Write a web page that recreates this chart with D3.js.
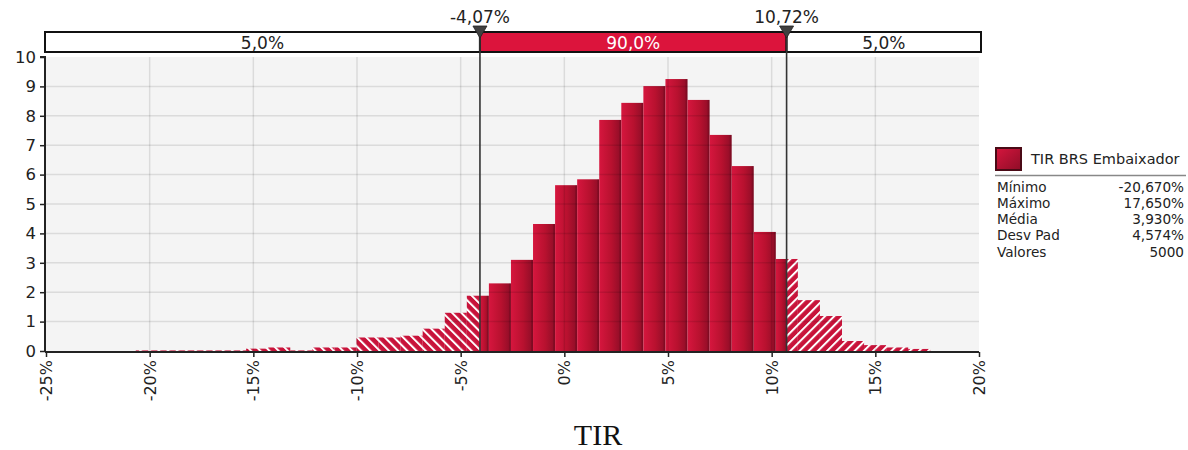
<!DOCTYPE html>
<html><head><meta charset="utf-8">
<script src="https://cdn.jsdelivr.net/npm/d3@7"></script>
<style>body{margin:0;background:#fff}svg{display:block}text{font-family:"DejaVu Sans",Verdana,sans-serif}</style>
</head><body>
<svg id="c" width="1188" height="450"></svg>
<script>
// ---- data ----
const binMin = -20.67, binMax = 17.65, binCount = 36;
const binValues = [0.02,0.02,0.02,0.02,0.02,0.08,0.12,0.02,0.12,0.12,
  0.46,0.46,0.52,0.76,1.30,1.88,2.30,3.10,4.32,5.64,
  5.84,7.86,8.44,9.01,9.25,8.54,7.35,6.29,4.05,3.13,
  1.73,1.19,0.34,0.20,0.12,0.07];
const lowerCut = -4.07, upperCut = 10.72;
const bandLabels = ["5,0%","90,0%","5,0%"];
const cutLabels = ["-4,07%","10,72%"];
const xTicks = [-25,-20,-15,-10,-5,0,5,10,15,20];
const yTicks = [0,1,2,3,4,5,6,7,8,9,10];
const seriesName = "TIR BRS Embaixador";
const statNames = ["Mínimo","Máximo","Média","Desv Pad","Valores"];
const statValues = ["-20,670%","17,650%","3,930%","4,574%","5000"];
const axisTitle = "TIR";

const svg = d3.select("#c");
const L = 46, R = 979, T = 57, B = 351;
const x = d3.scaleLinear().domain([-25,20]).range([L,R]);
const y = d3.scaleLinear().domain([0,10]).range([B,T]);
const bw = (binMax-binMin)/binCount;
const bins = binValues.map((v,i)=>({x0:binMin+i*bw, x1:binMin+(i+1)*bw, v}));

const defs = svg.append("defs");
const g = defs.append("linearGradient").attr("id","bar").attr("x1",0).attr("x2",1).attr("y1",0).attr("y2",0);
g.append("stop").attr("offset","0%").attr("stop-color","#d6163e");
g.append("stop").attr("offset","55%").attr("stop-color","#b8112f");
g.append("stop").attr("offset","100%").attr("stop-color","#8e0d27");
function hatch(id, dir){
  const p = defs.append("pattern").attr("id",id).attr("patternUnits","userSpaceOnUse")
    .attr("width",6.5).attr("height",6.5).attr("patternTransform","rotate("+(dir*45)+")");
  p.append("rect").attr("width",6.5).attr("height",6.5).attr("fill","#c8133a");
  p.append("rect").attr("x",0).attr("width",2).attr("height",6.5).attr("fill","#ffffff");
}
hatch("hl",-1); hatch("hr",1);

// plot background
svg.append("rect").attr("x",L).attr("y",T).attr("width",R-L).attr("height",B-T).attr("fill","#f4f4f4");

// bars
const barG = svg.append("g");
bins.forEach(b=>{
  const pieces = [[b.x0,Math.min(b.x1,lowerCut),"url(#hl)"],
                  [Math.max(b.x0,lowerCut),Math.min(b.x1,upperCut),"url(#bar)"],
                  [Math.max(b.x0,upperCut),b.x1,"url(#hr)"]];
  pieces.forEach(p=>{
    if(p[1]>p[0]){
      barG.append("rect").attr("x",x(p[0])).attr("y",y(b.v))
        .attr("width",x(p[1])-x(p[0])).attr("height",y(0)-y(b.v)).attr("fill",p[2]);
    }
  });
  const xs = Math.max(b.x0,lowerCut), xe = Math.min(b.x1,upperCut);
  if(xe>xs && xe===b.x1)
    barG.append("rect").attr("x",x(xe)-2).attr("y",y(b.v)).attr("width",2).attr("height",y(0)-y(b.v))
      .attr("fill","#000").attr("opacity",0.12);
});

// grid over
const grid = svg.append("g").attr("stroke","#000").attr("stroke-opacity",0.1).attr("stroke-width",1.5);
yTicks.slice(1,-1).forEach(t=>grid.append("line").attr("x1",L).attr("x2",R).attr("y1",y(t)).attr("y2",y(t)));
xTicks.slice(1,-1).forEach(t=>grid.append("line").attr("x1",x(t)).attr("x2",x(t)).attr("y1",T).attr("y2",B));

// axes
const yA = svg.append("g").attr("transform",`translate(${L-1},0)`)
  .call(d3.axisLeft(y).tickValues(yTicks).tickSize(5).tickPadding(4));
yA.select(".domain").attr("stroke","#222").attr("stroke-width",2).attr("d",`M-5,${T}H0V${B+1}`);
yA.selectAll(".tick line").attr("stroke","#222").attr("stroke-width",1.5);
yA.selectAll("text").attr("font-size",16.5).attr("fill","#222").style("font-family","DejaVu Sans");
const xA = svg.append("g").attr("transform",`translate(0,${B+1})`)
  .call(d3.axisBottom(x).tickValues(xTicks).tickSize(5).tickFormat(d=>d+"%"));
xA.select(".domain").attr("stroke","#222").attr("stroke-width",2).attr("d",`M${L-1},0H${R}`);
xA.selectAll(".tick line").attr("stroke","#222").attr("stroke-width",1.5);
xA.selectAll("text").attr("font-size",16).attr("fill","#222").attr("text-anchor","end")
  .attr("transform","rotate(-90)").attr("x",-8).attr("y",0).attr("dy","0.35em").style("font-family","DejaVu Sans");

// band
const bandY = 32, bandH = 20, bandL = 45, bandR = 981;
const edges = [bandL, x(lowerCut), x(upperCut), bandR];
[0,1,2].forEach(i=>{
  svg.append("rect").attr("x",edges[i]).attr("y",bandY).attr("width",edges[i+1]-edges[i]).attr("height",bandH)
    .attr("fill", i===1?"#dc143c":"#fff").attr("stroke","#111").attr("stroke-width",2);
  svg.append("text").attr("x",(edges[i]+edges[i+1])/2).attr("y",bandY+bandH/2+1).attr("dy","0.35em")
    .attr("text-anchor","middle").attr("font-size",17).attr("fill",i===1?"#fff":"#222").text(bandLabels[i]);
});
// cut lines + triangles
[lowerCut,upperCut].forEach((c,i)=>{
  const cx = x(c);
  svg.append("line").attr("x1",cx).attr("x2",cx).attr("y1",bandY).attr("y2",B).attr("stroke","#333").attr("stroke-width",1.6);
  svg.append("path").attr("d",`M${cx-7},${bandY-6}L${cx+7},${bandY-6}L${cx},${bandY+6}Z`).attr("fill","#404040").attr("stroke","#222").attr("stroke-width",0.8);
  svg.append("text").attr("x",cx).attr("y",23).attr("text-anchor","middle").attr("font-size",17).attr("fill","#222").text(cutLabels[i]);
});

// legend
const lx = 995;
const sg = defs.append("linearGradient").attr("id","sw").attr("x1",0).attr("x2",1).attr("y1",0).attr("y2",1);
sg.append("stop").attr("offset","0%").attr("stop-color","#d6163e");
sg.append("stop").attr("offset","100%").attr("stop-color","#8e0d27");
svg.append("rect").attr("x",lx+1).attr("y",148).attr("width",25).attr("height",22).attr("fill","url(#sw)").attr("stroke","#4a0a16").attr("stroke-width",2);
svg.append("text").attr("x",1031).attr("y",164).attr("font-size",14.5).attr("fill","#222").text(seriesName);
svg.append("line").attr("x1",lx).attr("x2",1186).attr("y1",175.5).attr("y2",175.5).attr("stroke","#888").attr("stroke-width",1.5);
statNames.forEach((n,i)=>{
  const yy = 191.5 + i*16.3;
  svg.append("text").attr("x",997).attr("y",yy).attr("font-size",13.6).attr("fill","#222").text(n);
  svg.append("text").attr("x",1184).attr("y",yy).attr("font-size",13.6).attr("fill","#222").attr("text-anchor","end").text(statValues[i]);
});

// axis title
svg.append("text").attr("x",598).attr("y",445).attr("text-anchor","middle").attr("font-size",30)
  .style("font-family","'Liberation Serif','Times New Roman',serif").attr("fill","#111").text(axisTitle);
</script>
</body></html>
